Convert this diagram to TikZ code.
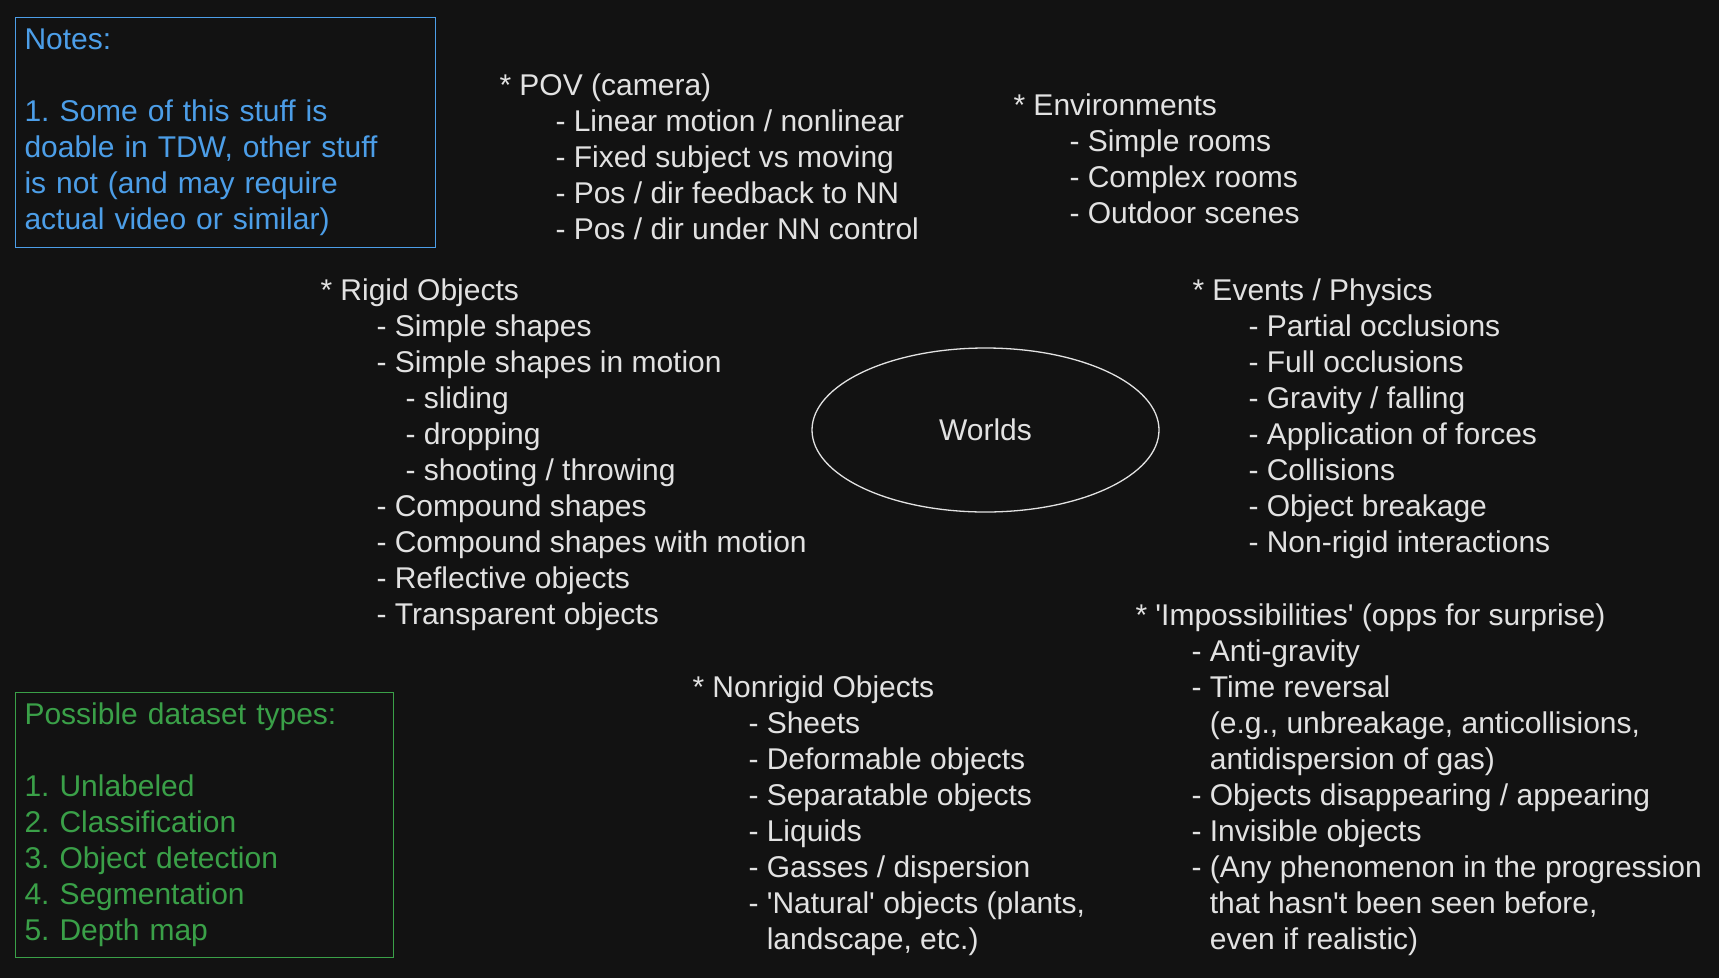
\documentclass[tikz,border=0pt]{standalone}
\usepackage{fontspec}
\setmainfont{Liberation Sans}
\usetikzlibrary{shapes.geometric}
\definecolor{bg}{RGB}{18,18,18}
\definecolor{ink}{RGB}{226,226,226}
\definecolor{notecol}{RGB}{76,158,232}
\definecolor{typecol}{RGB}{58,160,72}
\frenchspacing
\newcommand\hand{\fontsize{30}{36}\selectfont}
\newcommand\itm{\hspace*{56pt}- }
\newcommand\itmm{\hspace*{85pt}- }
\newcommand\itmc{\hspace*{56pt}\phantom{- }}

\begin{document}
\begin{tikzpicture}[x=1pt,y=-1pt,line width=1pt,
  blk/.style={anchor=north west,inner sep=0pt,align=left,text=ink,font=\hand},
  notebox/.style={anchor=north west,draw=#1,text=#1,font=\hand,inner xsep=9pt,align=left}]
\fill[bg] (0,0) rectangle (1719,978);
\path[use as bounding box] (0,0) rectangle (1719,978);
\node[notebox=notecol,text width=402pt,inner ysep=7pt] (notes) at (15,17) {\strut Notes:\\ \mbox{}\\ 1. Some of this stuff is\\ doable in TDW, other stuff\\ is not (and may require\\ actual video or similar)\strut};
\node[notebox=typecol,text width=360pt,inner ysep=6.5pt] (types) at (15,692) {\strut Possible dataset types:\\ \mbox{}\\ 1. Unlabeled\\ 2. Classification\\ 3. Object detection\\ 4. Segmentation\\ 5. Depth map\strut};
\node[blk] (pov) at (499,70) {\strut* POV (camera)\\
\itm Linear motion / nonlinear\\
\itm Fixed subject vs moving\\
\itm Pos / dir feedback to NN\\
\itm Pos / dir under NN control};
\node[blk] (envs) at (1013,90) {\strut* Environments\\
\itm Simple rooms\\
\itm Complex rooms\\
\itm Outdoor scenes};
\node[blk] (rigid) at (320,275) {\strut* Rigid Objects\\
\itm Simple shapes\\
\itm Simple shapes in motion\\
\itmm sliding\\
\itmm dropping\\
\itmm shooting / throwing\\
\itm Compound shapes\\
\itm Compound shapes with motion\\
\itm Reflective objects\\
\itm Transparent objects};
\node[blk] (events) at (1192,275) {\strut* Events / Physics\\
\itm Partial occlusions\\
\itm Full occlusions\\
\itm Gravity / falling\\
\itm Application of forces\\
\itm Collisions\\
\itm Object breakage\\
\itm Non-rigid interactions};
\node[draw=ink,ellipse,line width=1.3pt,minimum width=347pt,minimum height=164pt,text=ink,font=\hand] (worlds) at (985.5,430) {Worlds};
\node[blk] (impossible) at (1135,600) {\strut* \textquotesingle Impossibilities\textquotesingle{} (opps for surprise)\\
\itm Anti-gravity\\
\itm Time reversal\\
\itmc (e.g., unbreakage, anticollisions,\\
\itmc antidispersion of gas)\\
\itm Objects disappearing / appearing\\
\itm Invisible objects\\
\itm (Any phenomenon in the progression\\
\itmc that hasn\textquotesingle t been seen before,\\
\itmc even if realistic)};
\node[blk] (nonrigid) at (692,672) {\strut* Nonrigid Objects\\
\itm Sheets\\
\itm Deformable objects\\
\itm Separatable objects\\
\itm Liquids\\
\itm Gasses / dispersion\\
\itm \textquotesingle Natural\textquotesingle{} objects (plants,\\
\itmc landscape, etc.)};
\end{tikzpicture}
\end{document}
